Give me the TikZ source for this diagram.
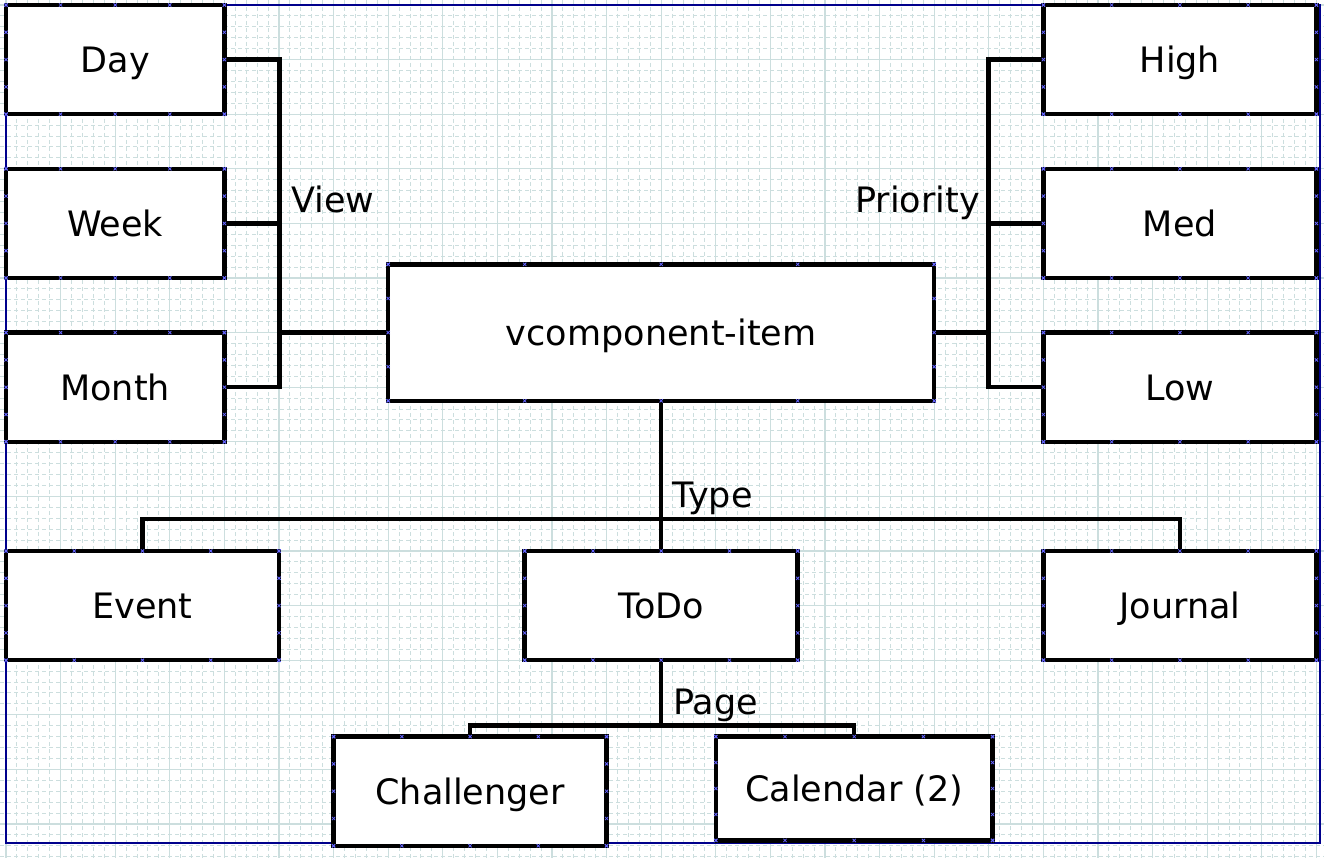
\documentclass[tikz,border=0pt]{standalone}
\usepackage{fontspec}
\setmainfont{DejaVu Sans}
\usepackage{tikz}
\usetikzlibrary{calc}

\definecolor{gridmajor}{RGB}{204,222,222}
\definecolor{gridminor}{RGB}{204,222,222}
\definecolor{pageline}{RGB}{0,0,140}
\definecolor{handleblue}{RGB}{100,100,255}

\begin{document}
\begin{tikzpicture}[x=1pt, y=-1pt,
  box/.style={draw, line width=4.5pt, fill=white, inner sep=0pt, outer sep=0pt,
    minimum width=273pt, minimum height=109.2pt, text height=26pt, text depth=0pt,
    font=\fontsize{35}{42}\selectfont},
  link/.style={line width=4.5pt, line join=miter},
  linklabel/.style={inner sep=0pt, font=\fontsize{35}{42}\selectfont},
  crossmark/.style={draw=handleblue, line width=0.8pt},
  handle/.pic={\draw[crossmark] (-1.6,-1.6) -- (1.6,1.6) (-1.6,1.6) -- (1.6,-1.6);}]
\useasboundingbox (0,0) rectangle (1324,858);

% grid
\foreach \k in {0,...,120} \draw[gridminor, line width=1pt, dash pattern=on 4pt off 3pt] (6+\k*10.92,0) -- (6+\k*10.92,858);
\foreach \k in {0,...,78} \draw[gridminor, line width=1pt, dash pattern=on 4pt off 3pt] (0,5+\k*10.92) -- (1324,5+\k*10.92);
\foreach \k in {0,...,24} \draw[gridmajor, line width=1.2pt] (6+\k*54.6,0) -- (6+\k*54.6,858);
\foreach \k in {0,...,15} \draw[gridmajor, line width=1.2pt] (0,5+\k*54.6) -- (1324,5+\k*54.6);
\draw[pageline, line width=1.5pt] (6,5) rectangle (1320,843);

% boxes
\node[box, minimum width=218.4pt] (day) at (115.2,59.6) {Day};
\node[box, minimum width=218.4pt] (week) at (115.2,223.4) {Week};
\node[box, minimum width=218.4pt] (month) at (115.2,387.2) {Month};
\node[box] (high) at (1179.9,59.6) {High};
\node[box] (med) at (1179.9,223.4) {Med};
\node[box] (low) at (1179.9,387.2) {Low};
\node[box, minimum width=546pt, minimum height=136.5pt] (vcomp) at (661.2,332.6) {vcomponent-item};
\node[box] (event) at (142.5,605.6) {Event};
\node[box] (todo) at (661.2,605.6) {ToDo};
\node[box] (journal) at (1179.9,605.6) {Journal};
\node[box] (chall) at (470.1,791.2) {Challenger};
\node[box, minimum width=276.8pt, minimum height=103.8pt] (cal) at (854.2,788.5) {Calendar (2)};

% connectors
\coordinate (V) at (279.3,332.6);
\coordinate (P) at (988.3,332.6);
\coordinate (T) at (661.2,519);
\coordinate (G) at (661.2,725.3);
\draw[link] (vcomp.west) -- (V);
\draw[link] (V) |- (day.east); \draw[link] (V) |- (week.east); \draw[link] (V) |- (month.east);
\draw[link] (vcomp.east) -- (P);
\draw[link] (P) |- (high.west); \draw[link] (P) |- (med.west); \draw[link] (P) |- (low.west);
\draw[link] (vcomp.south) -- (todo.north);
\draw[link] (T) -| (event.north); \draw[link] (T) -| (journal.north);
\draw[link] (todo.south) -- (G);
\draw[link] (G) -| (chall.north); \draw[link] (G) -| (cal.north);

% connection points
\foreach \n in {day,week,month,high,med,low,vcomp,event,todo,journal,chall,cal} {
  \foreach \f in {0,0.25,0.5,0.75,1} {
    \path ($(\n.north west)!\f!(\n.north east)$) pic {handle};
    \path ($(\n.south west)!\f!(\n.south east)$) pic {handle};
    \path ($(\n.north west)!\f!(\n.south west)$) pic {handle};
    \path ($(\n.north east)!\f!(\n.south east)$) pic {handle};
  }
}

\node[linklabel, anchor=base west] (view) at (291,212.7) {View};
\node[linklabel, anchor=base east] (prio) at (980,212.7) {Priority};
\node[linklabel, anchor=base west] (type) at (672,507.5) {Type};
\node[linklabel, anchor=base west] (page) at (673,714) {Page};

\end{tikzpicture}
\end{document}
